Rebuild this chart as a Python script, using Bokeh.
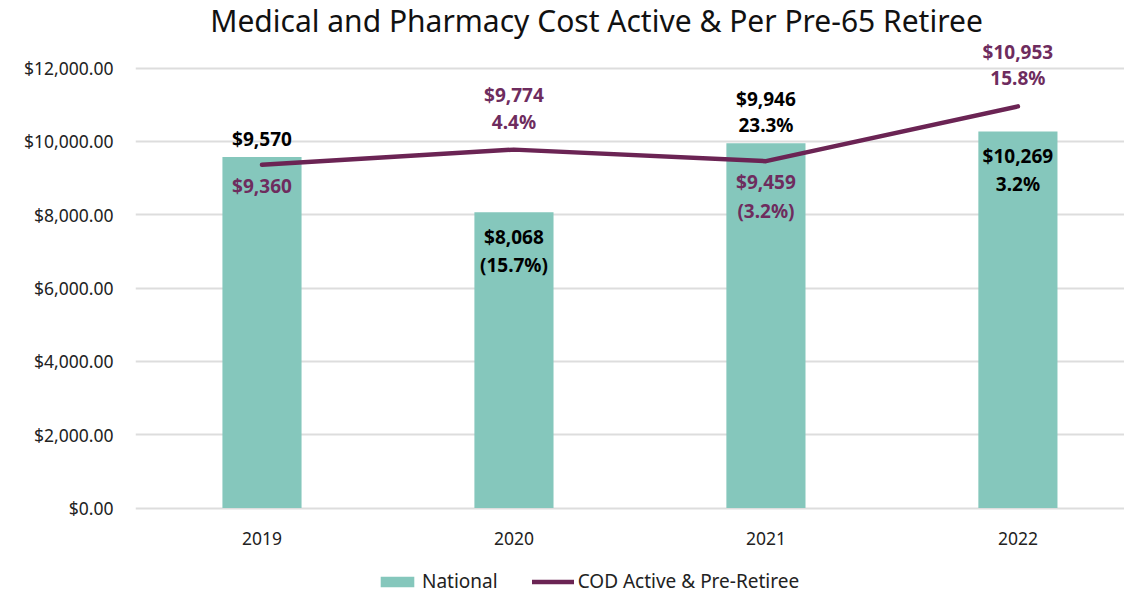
from bokeh.plotting import figure
from bokeh.models import (ColumnDataSource, Range1d, FixedTicker, Legend, LegendItem,
                          NumeralTickFormatter, Label)
from bokeh.core.properties import value
from bokeh.embed import file_html
from bokeh.resources import INLINE

# ---- data ----
title = "Medical and Pharmacy Cost Active & Per Pre-65 Retiree"
years = ["2019", "2020", "2021", "2022"]
national = [9570, 8068, 9946, 10269]
national_pct = [None, "(15.7%)", "23.3%", "3.2%"]
cod = [9360, 9774, 9459, 10953]
cod_pct = [None, "4.4%", "(3.2%)", "15.8%"]
national_pos = ["above", "inside", "above", "inside"]
cod_pos = ["below", "above", "below", "above"]
y_ticks = [0, 2000, 4000, 6000, 8000, 10000, 12000]

FONT = "Noto Sans"
TEAL = "#85C7BC"
PLUM = "#6B2454"
PLUM_TXT = "#6E2C5E"

xs = list(range(len(years)))

# frame covers full height; value axis 0 at 507.5px, 12000 at 67.5px
p = figure(frame_width=989, frame_height=594, output_backend="svg", toolbar_location=None,
           x_range=Range1d(-0.502, 3.423), y_range=Range1d(-2359, 13841),
           min_border_left=135, min_border_right=0, min_border_top=0, min_border_bottom=0)

p.outline_line_color = None
p.background_fill_color = "white"
p.border_fill_color = "white"

bars = p.vbar(x=xs, top=national, width=0.314, color=TEAL, line_color=None)
line = p.line(x=xs, y=cod, line_color=PLUM, line_width=4.5, line_cap="round", line_join="round")

# axes
p.yaxis.ticker = FixedTicker(ticks=y_ticks)
p.yaxis.formatter = NumeralTickFormatter(format="$0,0.00")
p.xaxis.ticker = FixedTicker(ticks=xs)
p.xaxis.major_label_overrides = {i: y for i, y in zip(xs, years)}
p.xaxis.fixed_location = 0
for ax in (p.xaxis, p.yaxis):
    ax.axis_line_color = None
    ax.major_tick_line_color = None
    ax.minor_tick_line_color = None
    ax.major_label_text_font = FONT
    ax.major_label_text_font_size = "17.5px"
    ax.major_label_text_color = "#222222"
p.yaxis.major_label_standoff = 16
p.xaxis.major_label_standoff = 18
p.xgrid.grid_line_color = None
p.ygrid.grid_line_color = "#DDDDDD"
p.ygrid.grid_line_width = 2

# title (screen units relative to the frame)
p.add_layout(Label(x=461, y=574, x_units="screen", y_units="screen", text=title,
                   text_align="center", text_baseline="middle", text_font=FONT,
                   text_font_size="30px", text_color="#111111"))

# labels
def add_labels(vals, pcts, poss, color, is_line):
    tx, ty, tt, toff = [], [], [], []
    for i, (v, pc, pos) in enumerate(zip(vals, pcts, poss)):
        lines = ["${:,}".format(v)] + ([pc] if pc else [])
        n = len(lines)
        for j, t in enumerate(lines):
            if pos == "above":
                base = -28 if is_line else -18
                off = base - 26.5 * (n - 1 - j)
            elif pos == "below":
                off = 21 + 29 * j
            else:  # inside
                off = 25 + 27.5 * j
            tx.append(i); ty.append(v); tt.append(t); toff.append(off)
    src = ColumnDataSource(dict(x=tx, y=ty, text=tt, yo=toff))
    p.text(x="x", y="y", text="text", y_offset="yo", source=src,
           text_align="center", text_baseline="middle", text_font=value(FONT),
           text_font_size="19px", text_font_style="bold", text_color=color)

add_labels(national, national_pct, national_pos, "#000000", False)
add_labels(cod, cod_pct, cod_pos, PLUM_TXT, True)

legend = Legend(items=[LegendItem(label="National", renderers=[bars]),
                       LegendItem(label="COD Active & Pre-Retiree", renderers=[line])],
                orientation="horizontal", location=(241, 0),
                label_text_font=FONT, label_text_font_size="19px", label_text_color="#222222",
                glyph_width=42, glyph_height=13, label_standoff=4, spacing=34,
                border_line_color=None, background_fill_alpha=0, padding=0, margin=0)
p.add_layout(legend, "center")

open("out.html", "w").write(file_html(p, INLINE))
